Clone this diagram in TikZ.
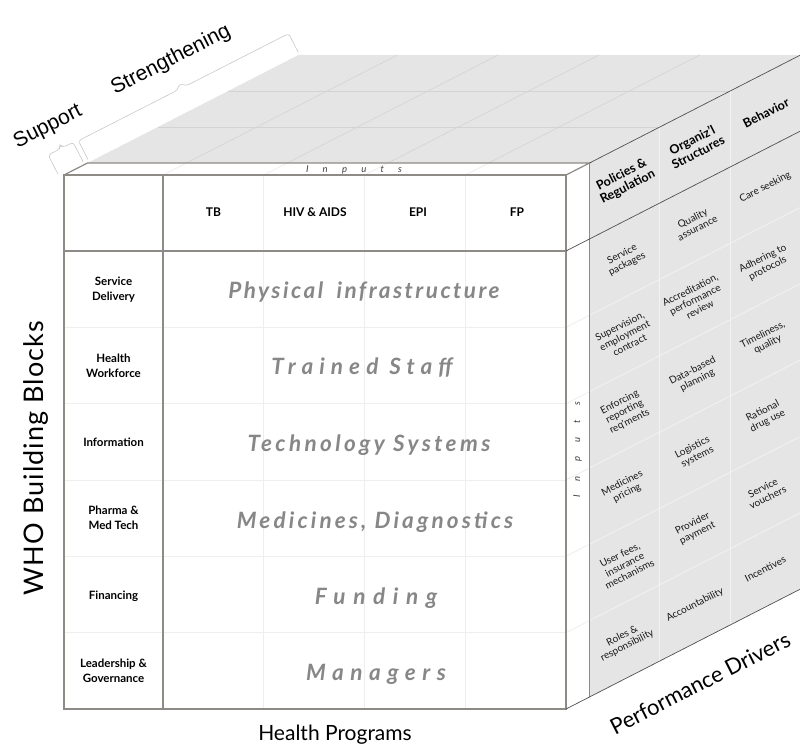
\documentclass[tikz,border=0pt]{standalone}
\usepackage{fontspec}
\setmainfont{Lato}
\newfontfamily\arialf{Liberation Sans}
\definecolor{facegrey}{HTML}{E5E5E5}
\definecolor{gridgrey}{HTML}{D3D3D3}
\definecolor{edgegrey}{HTML}{8E8A86}
\definecolor{textgrey}{HTML}{878787}
\definecolor{faint}{HTML}{EEEEEE}
\definecolor{rfaint}{HTML}{F2F2F2}
\definecolor{darkedge}{HTML}{505050}
\definecolor{bracegrey}{HTML}{C8C8C8}
\begin{document}
\begin{tikzpicture}[x=1pt,y=-1pt,
  cell/.style={font=\fontsize{10}{10.8}\selectfont, align=center, rotate=27, text=black!90, inner sep=0pt},
  hdr/.style={font=\bfseries\fontsize{12.5}{13.5}\selectfont, align=center, rotate=27, inner sep=0pt},
  lbl/.style={font=\bfseries\fontsize{11.5}{15}\selectfont, align=center, inner sep=0pt},
  prog/.style={font=\bfseries\fontsize{12}{14}\selectfont, inner sep=0pt},
  big/.style={font=\bfseries\itshape\fontsize{22.5}{25}\selectfont, text=textgrey, inner sep=0pt},
  axislabel/.style={font=\fontsize{21}{24}\selectfont, inner sep=0pt},
  sslabel/.style={font=\arialf\fontsize{21}{24}\selectfont, inner sep=0pt, rotate=27},
  inp/.style={font=\itshape\fontsize{9.5}{10}\selectfont\addfontfeature{LetterSpace=150}, inner sep=0pt, text=black!75},
  faintline/.style={draw=faint, line width=0.8pt},
  rline/.style={draw=rfaint, line width=0.8pt},
  tline/.style={draw=gridgrey, line width=0.6pt},
  frame/.style={draw=edgegrey, line width=1.8pt},
  darkline/.style={draw=darkedge, line width=0.7pt},
  bracket/.style={draw=bracegrey, line width=0.6pt, rounded corners=3pt},
]
\useasboundingbox (0,0) rectangle (800,749);

% ---- key corners
\coordinate (F-tl) at (64,175);
\coordinate (F-tr) at (566,175);
\coordinate (F-bl) at (64,709);
\coordinate (F-br) at (566,709);
\coordinate (G-tl) at (87.5,163);
\coordinate (G-tr) at (589.5,163);
\coordinate (G-br) at (589.5,697);
\coordinate (B-tl) at (298.5,55);
\coordinate (B-tr) at (800.5,55);
\coordinate (B-br) at (800.5,589);

% ---- top face and right face
\fill[facegrey] (G-tl) -- (G-tr) -- (B-tr) -- (B-tl) -- cycle;
\fill[facegrey] (G-tr) -- (B-tr) -- (B-br) -- (G-br) -- cycle;

% top face grid
\draw[tline] (157.8,127) -- (659.8,127);
\draw[tline] (228.2,91) -- (730.2,91);
\foreach \x in {163,263.75,364.5,465.25}
  \draw[tline] (\x,175) -- ({\x+234.5},55);

% right face grid
\draw[rline] (659.8,127) -- (659.8,661);
\draw[rline] (730.2,91) -- (730.2,625);
\foreach \y in {327.33,403.67,480,556.33,632.67}
  \draw[rline] (566,\y) -- (800.5,{\y-120});

% ---- slab (white)
\fill[white] (F-tl) -- (G-tl) -- (G-tr) -- (F-tr) -- cycle;
\fill[white] (F-tr) -- (G-tr) -- (G-br) -- (F-br) -- cycle;
\foreach \x in {163,263.75,364.5,465.25}
  \draw[faintline] (\x,175) -- ({\x+23.5},163);
\foreach \y in {327.33,403.67,480,556.33,632.67}
  \draw[faintline] (566,\y) -- (589.5,{\y-12});

% ---- front face
\fill[white] (F-tl) rectangle (F-br);
\foreach \y in {327.33,403.67,480,556.33,632.67}
  \draw[faintline] (64,\y) -- (566,\y);
\foreach \x in {263.75,364.5,465.25}
  \draw[faintline] (\x,175) -- (\x,709);

% frame lines
\draw[frame] (F-tl) rectangle (F-br);
\draw[frame] (163,175) -- (163,709);
\draw[frame] (64,251) -- (566,251);
\draw[draw=edgegrey, line width=1.2pt] (F-tl) -- (G-tl) -- (G-tr) -- (F-tr);
\draw[frame] (G-tr) -- (G-br);
\draw[darkline] (G-tr) -- (B-tr);
\draw[darkline] (566,251) -- (800.5,131);
\draw[darkline] (F-br) -- (B-br);

% ---- Support / Strengthening brackets
\begin{scope}[shift={(64,175)}, rotate=27]
  \draw[bracket] (-5,-3) -- (-5,-25) -- (8,-25) -- (10,-29) -- (12,-25) -- (23,-25) -- (23,-3);
\end{scope}
\begin{scope}[shift={(87.5,163)}, rotate=27]
  \draw[bracket] (2,-3) -- (2,-24) -- (113,-24) -- (118,-29) -- (123,-24) -- (238,-24) -- (238,-3);
\end{scope}
\node[sslabel] (sup) at (48,127) {Support};
\node[sslabel] (str) at (171,60) {Strengthening};

% ---- Inputs labels on slab
\node[inp] (inptop) at (354,169.5) {Inputs};
\node[inp, rotate=90] (inpside) at (577.5,450) {Inputs};

% ---- program headers
\node[prog] (tb) at (213.4,212) {TB};
\node[prog] (hiv) at (315,212) {HIV \& AIDS};
\node[prog] (epi) at (418,212) {EPI};
\node[prog] (fp) at (517,212) {FP};

% ---- building block labels
\node[lbl] (l1) at (113.5,289.2) {Service\\Delivery};
\node[lbl] (l2) at (113.5,365.5) {Health\\Workforce};
\node[lbl] (l3) at (113.5,441.8) {Information};
\node[lbl] (l4) at (113.5,518.2) {Pharma \&\\Med Tech};
\node[lbl] (l5) at (113.5,596) {Financing};
\node[lbl] (l6) at (113.5,670.8) {Leadership \&\\Governance};

% ---- inputs (big grey)
\node[big] (b1) at (364,292) {\addfontfeature{LetterSpace=11}Physical\hspace{6pt} infrastructure};
\node[big] (b2) at (362,368) {\addfontfeature{LetterSpace=27}Trained Staff};
\node[big] (b3) at (369,445) {\addfontfeature{LetterSpace=15}Technology Systems};
\node[big] (b4) at (375,522) {\addfontfeature{LetterSpace=14}Medicines, Diagnostics};
\node[big] (b5) at (376,598) {\addfontfeature{LetterSpace=34}Funding};
\node[big] (b6) at (376,674) {\addfontfeature{LetterSpace=29}Managers};

% ---- right face headers
\node[hdr] (h1) at (624.7,181) {Policies \&\\Regulation};
\node[hdr] (h2) at (695,146) {Organiz'l\\Structures};
\node[hdr] (h3) at (766,113) {Behavior};

% ---- right face cells
\node[cell] (c11) at (624.7,259.2) {Service\\packages};
\node[cell] (c12) at (695,223.2) {Quality\\assurance};
\node[cell] (c13) at (765.3,187.2) {Care seeking};
\node[cell] (c21) at (624.7,335.5) {Supervision,\\employment\\contract};
\node[cell] (c22) at (695,299.5) {Accreditation,\\performance\\review};
\node[cell] (c23) at (765.3,263.5) {Adhering to\\protocols};
\node[cell] (c31) at (624.7,411.8) {Enforcing\\reporting\\req'ments};
\node[cell] (c32) at (695,375.8) {Data-based\\planning};
\node[cell] (c33) at (765.3,339.8) {Timeliness,\\quality};
\node[cell] (c41) at (624.7,488.2) {Medicines\\pricing};
\node[cell] (c42) at (695,452.2) {Logistics\\systems};
\node[cell] (c43) at (765.3,416.2) {Rational\\drug use};
\node[cell] (c51) at (624.7,564.5) {User fees,\\insurance\\mechanisms};
\node[cell] (c52) at (695,528.5) {Provider\\payment};
\node[cell] (c53) at (765.3,492.5) {Service\\vouchers};
\node[cell] (c61) at (624.7,640.8) {Roles \&\\responsibility};
\node[cell] (c62) at (695,604.8) {Accountability};
\node[cell] (c63) at (765.3,568.8) {Incentives};

% ---- axis labels
\node[axislabel, rotate=90, font=\fontsize{27}{30}\selectfont\addfontfeature{LetterSpace=4}] (who) at (36,458) {WHO Building Blocks};
\node[axislabel] (hp) at (335,735) {Health Programs};
\node[axislabel, rotate=27, font=\fontsize{22}{25}\selectfont] (pd) at (700,683) {Performance Drivers};
\end{tikzpicture}
\end{document}
